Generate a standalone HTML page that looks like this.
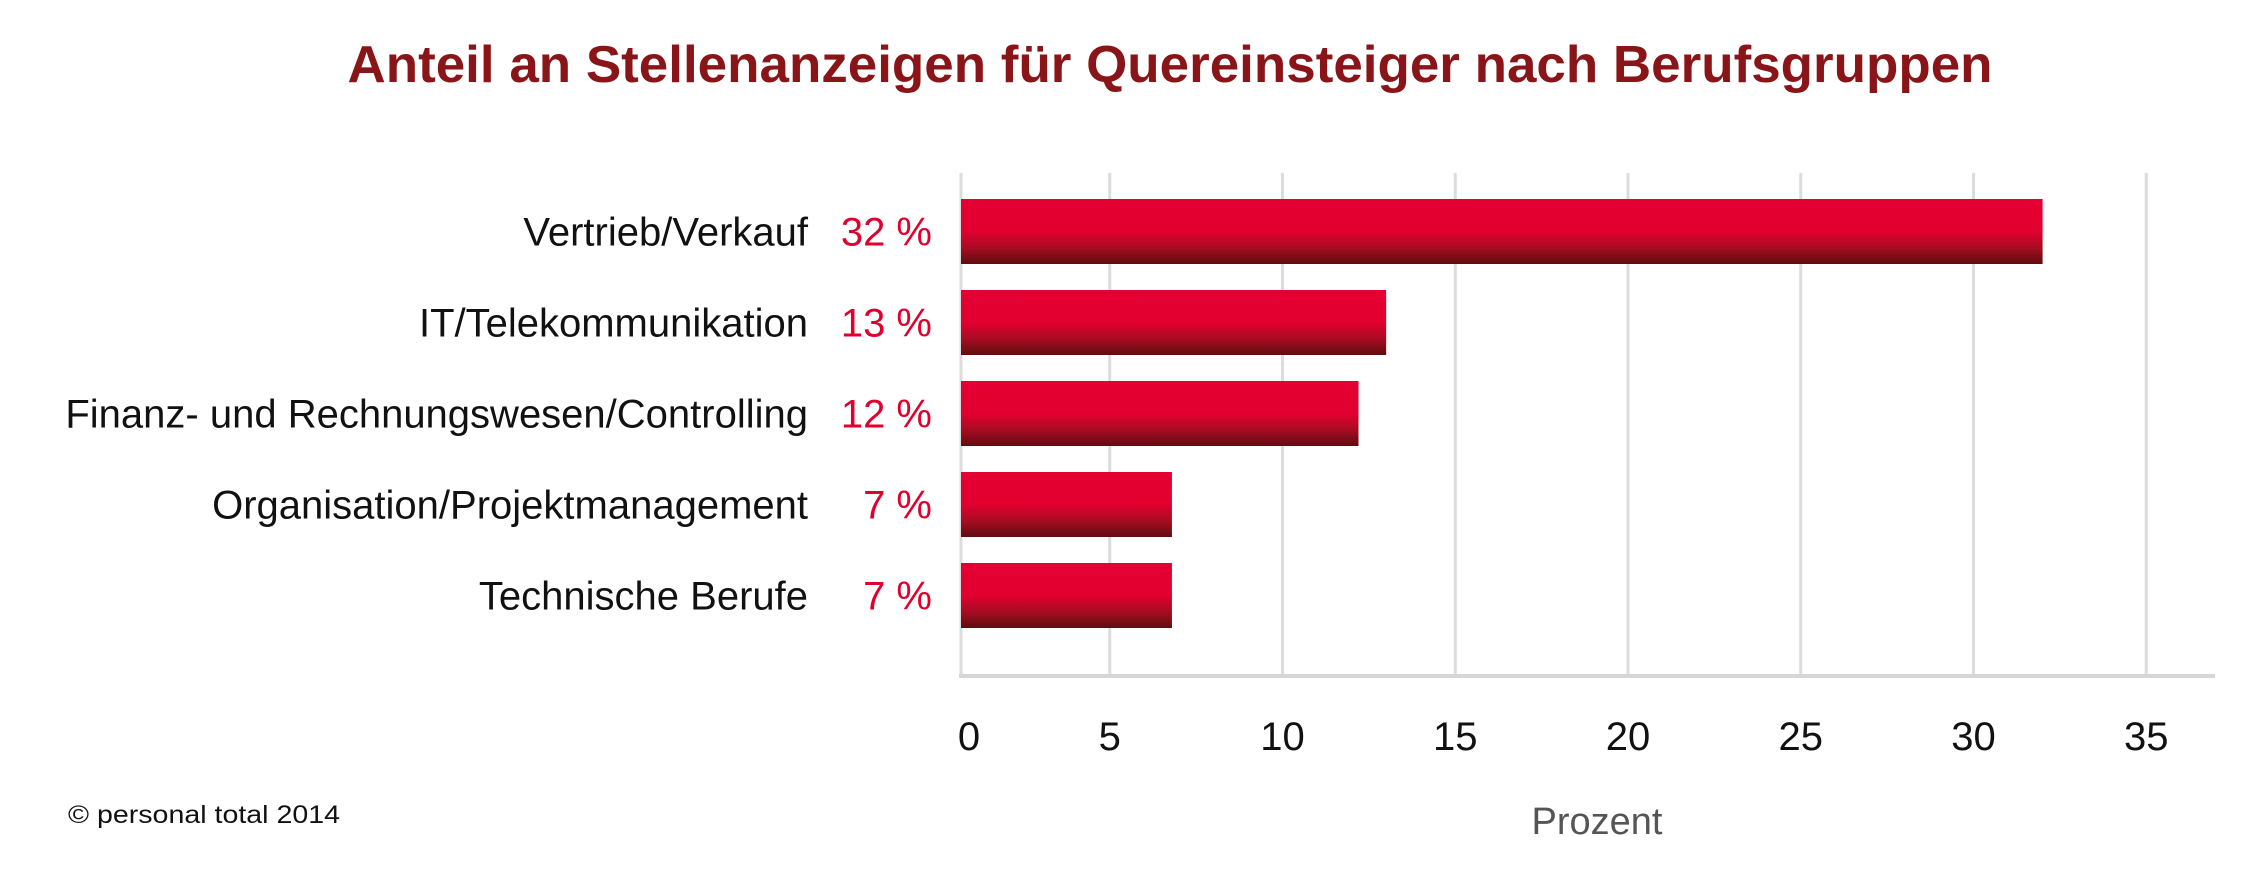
<!DOCTYPE html>
<html><head><meta charset="utf-8"><style>
html,body{margin:0;padding:0;background:#fff;}
svg{display:block;font-family:"Liberation Sans",sans-serif;}
</style></head><body>
<svg id="chart" width="2260" height="886" viewBox="0 0 2260 886">
<defs>
<linearGradient id="barGrad" x1="0" y1="0" x2="0" y2="1">
<stop offset="0" stop-color="#e40032"/>
<stop offset="0.5" stop-color="#e20030"/>
<stop offset="0.75" stop-color="#a80c22"/>
<stop offset="1" stop-color="#5e0d10"/>
</linearGradient>
</defs>
<text x="1170" y="82" text-anchor="middle" font-size="52" font-weight="bold" fill="#8a1519" textLength="1645" lengthAdjust="spacingAndGlyphs">Anteil an Stellenanzeigen für Quereinsteiger nach Berufsgruppen</text>
<g id="grid"></g>
<g id="bars"></g>
<g id="labels"></g>
<text x="1597" y="834" text-anchor="middle" font-size="38" fill="#555">Prozent</text>
<text x="68" y="823" font-size="25" fill="#111" textLength="272" lengthAdjust="spacingAndGlyphs">© personal total 2014</text>
</svg>
<script>
const categories = ["Vertrieb/Verkauf","IT/Telekommunikation","Finanz- und Rechnungswesen/Controlling","Organisation/Projektmanagement","Technische Berufe"];
const values = [32, 13, 12.2, 6.8, 6.8];
const valueLabels = ["32 %","13 %","12 %","7 %","7 %"];
const ticks = [0,5,10,15,20,25,30,35];

const NS = "http://www.w3.org/2000/svg";
const x0 = 937, unit = 34.55, axisX = 961, axisY = 676, gridTop = 173, axisEnd = 2215;
const bandTop = 199, bandStep = 91, barH = 65;
function xs(v){ return x0 + v*unit; }
function ys(i){ return bandTop + i*bandStep; }
function mk(tag, attrs, parent){ const e=document.createElementNS(NS,tag); for(const k in attrs) e.setAttribute(k,attrs[k]); parent.appendChild(e); return e; }

const grid = document.getElementById('grid');
ticks.forEach(t=>{
  const gx = t===0 ? axisX : xs(t);
  const l = mk('line',{x1:gx,x2:gx,y1:gridTop,y2:axisY,stroke:'#dcdcdc','stroke-width':3},grid);
  
  
  const tx = t===0 ? axisX+8 : xs(t);
  const lb = mk('text',{x:tx,y:750,'text-anchor':'middle','font-size':40,fill:'#111'},grid);
  lb.textContent = t;
  
  
});
const ax = mk('line',{x1:axisX-2,x2:axisEnd,y1:axisY,y2:axisY,stroke:'#d6d6d6','stroke-width':4},grid);



const bars = document.getElementById('bars');
const labels = document.getElementById('labels');
categories.forEach((c,i)=>{
  const y = ys(i);
  const r = mk('rect',{x:axisX,y:y,width:Math.max(0,xs(values[i])-axisX),height:barH,fill:'url(#barGrad)'},bars);
  
  
  const cy = y + barH/2 + 14;
  const t = mk('text',{x:808,y:cy,'text-anchor':'end','font-size':40,fill:'#111'},labels);
  t.textContent = c;
  
  
  const v = mk('text',{x:932,y:cy,'text-anchor':'end','font-size':40,fill:'#e0002d'},labels);
  v.textContent = valueLabels[i];
  
  
});
</script>
</body></html>
